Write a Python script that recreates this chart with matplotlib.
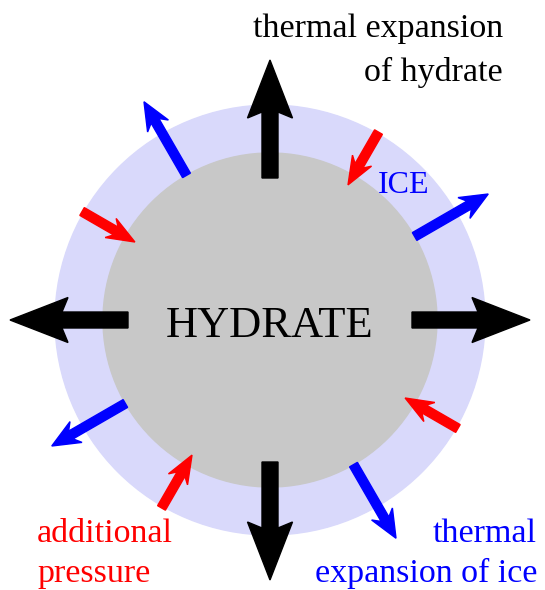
import numpy as np
import matplotlib
matplotlib.use("Agg")
import matplotlib.pyplot as plt
from matplotlib.patches import Circle, Polygon

# directions (degrees, counter-clockwise from +x) of each arrow family
hydrate_angles = [0, 90, 180, 270]
ice_angles = [30, 120, 210, 300]
pressure_angles = [60, 150, 240, 330]

center_label = "HYDRATE"
ice_label = "ICE"
hydrate_label = ["thermal expansion", "of hydrate"]
ice_exp_label = ["thermal", "expansion of ice"]
pressure_label = ["additional", "pressure"]

W, H = 545, 590
CX, CY = 270, 320
R_HYDRATE = 167
R_ICE = 215


def arrow_poly(r0, r1, angle, shaft, head_w, head_l, notch):
    # stealth-style arrow from radius r0 to r1 along angle (pixel coords, y down)
    a = np.deg2rad(angle)
    u = np.array([np.cos(a), -np.sin(a)])
    c = np.array([CX, CY])
    tail = c + r0 * u
    tip = c + r1 * u
    d = (tip - tail) / np.linalg.norm(tip - tail)
    n = np.array([-d[1], d[0]])
    barb = tip - head_l * d
    join = tip - (head_l - notch) * d
    pts = [
        tail + n * shaft / 2,
        join + n * shaft / 2,
        barb + n * head_w / 2,
        tip,
        barb - n * head_w / 2,
        join - n * shaft / 2,
        tail - n * shaft / 2,
    ]
    return pts


fig = plt.figure(figsize=(W / 100, H / 100), dpi=100)
ax = fig.add_axes([0, 0, 1, 1])
ax.set_xlim(0, W)
ax.set_ylim(H, 0)
ax.set_aspect("equal")
ax.axis("off")

ax.add_patch(Circle((CX, CY), R_ICE, color="#d9d9fb", zorder=1))
ax.add_patch(Circle((CX, CY), R_HYDRATE, color="#c8c8c8", zorder=2))

for ang in hydrate_angles:
    ax.add_patch(Polygon(arrow_poly(142, 260, ang, 16, 45, 58, 6),
                         color="black", zorder=4))
for ang in ice_angles:
    ax.add_patch(Polygon(arrow_poly(167, 252, ang, 9, 24, 28, 6),
                         color="#0000ff", zorder=4))
for ang in pressure_angles:
    ax.add_patch(Polygon(arrow_poly(217, 156, ang, 9, 22, 28, 6),
                         color="#ff0000", zorder=4))

font = "Liberation Serif"
ax.text(CX, 337, center_label, fontsize=32, family=font,
        ha="center", va="baseline", zorder=5)
ax.text(404, 193, ice_label, fontsize=23, family=font, color="#0000ff",
        ha="center", va="baseline", zorder=5)

fs = 24.5
ax.text(503, 37, hydrate_label[0], fontsize=fs, family=font,
        ha="right", va="baseline")
ax.text(503, 81, hydrate_label[1], fontsize=fs, family=font,
        ha="right", va="baseline")
ax.text(537, 542, ice_exp_label[0], fontsize=fs, family=font,
        color="#0000ff", ha="right", va="baseline")
ax.text(537, 582, ice_exp_label[1], fontsize=fs, family=font,
        color="#0000ff", ha="right", va="baseline")
ax.text(37, 542, pressure_label[0], fontsize=fs, family=font,
        color="#ff0000", ha="left", va="baseline")
ax.text(37, 582, pressure_label[1], fontsize=fs, family=font,
        color="#ff0000", ha="left", va="baseline")

fig.savefig("out.png", dpi=100)
